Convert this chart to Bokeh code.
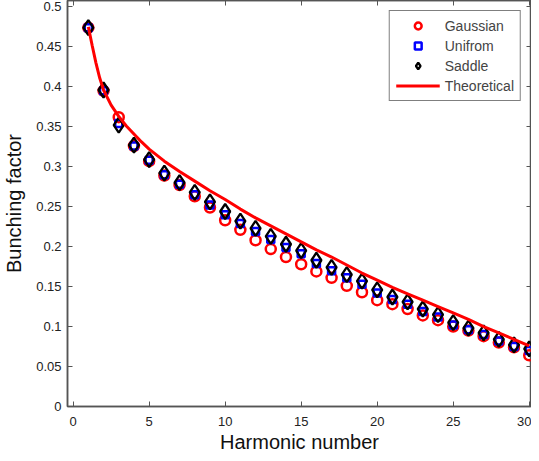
from bokeh.plotting import figure
from bokeh.models import LinearAxis, Range1d, Legend, LegendItem, FixedTicker
from bokeh.embed import file_html
from bokeh.resources import INLINE

harmonic = list(range(1, 31))
gaussian = [0.474, 0.395, 0.362, 0.326, 0.307, 0.289, 0.277, 0.263, 0.249, 0.233,
            0.221, 0.208, 0.197, 0.187, 0.178, 0.169, 0.161, 0.151, 0.143, 0.133,
            0.128, 0.122, 0.114, 0.108, 0.100, 0.095, 0.088, 0.080, 0.074, 0.064]
unifrom = [0.474, 0.395, 0.354, 0.326, 0.308, 0.290, 0.278, 0.265, 0.252, 0.240,
           0.229, 0.219, 0.209, 0.199, 0.191, 0.179, 0.170, 0.161, 0.153, 0.142,
           0.134, 0.128, 0.119, 0.112, 0.102, 0.096, 0.090, 0.082, 0.075, 0.070]
saddle = [0.474, 0.396, 0.352, 0.327, 0.309, 0.292, 0.280, 0.268, 0.256, 0.244,
          0.232, 0.223, 0.213, 0.203, 0.195, 0.183, 0.174, 0.165, 0.157, 0.146,
          0.137, 0.131, 0.122, 0.115, 0.105, 0.098, 0.092, 0.084, 0.077, 0.072]

theory_n = [1, 1.25, 1.5, 1.75, 2, 2.5, 3, 3.5, 4, 4.5, 5, 6, 7, 8, 9, 10, 11, 12, 13, 14,
            15, 16, 17, 18, 19, 20, 21, 22, 23, 24, 25, 26, 27, 28, 29, 30]
theory_b = [0.475, 0.452, 0.430, 0.411, 0.396, 0.377, 0.363, 0.351, 0.341, 0.331, 0.322,
            0.307, 0.294, 0.282, 0.270, 0.259, 0.247, 0.236, 0.226, 0.216, 0.206, 0.196,
            0.187, 0.177, 0.167, 0.158, 0.149, 0.141, 0.133, 0.125, 0.117, 0.109, 0.100,
            0.092, 0.084, 0.076]

x_ticks = [0, 5, 10, 15, 20, 25, 30]
y_ticks = [0, 0.05, 0.1, 0.15, 0.2, 0.25, 0.3, 0.35, 0.4, 0.45, 0.5]

FONT = "Liberation Sans"
AX = "#555555"

p = figure(width=531, height=455, output_backend="svg", toolbar_location=None,
           x_range=Range1d(-0.37, 30.15), y_range=Range1d(0, 0.508),
           min_border_left=63, min_border_right=0, min_border_top=0, min_border_bottom=0)
p.xgrid.visible = False
p.ygrid.visible = False
p.outline_line_color = AX
p.outline_line_width = 1.5

def style_axis(ax, labels=True):
    ax.axis_line_color = AX
    ax.axis_line_width = 1.5
    ax.major_tick_in = 5
    ax.major_tick_out = 0
    ax.minor_tick_line_color = None
    ax.major_tick_line_color = AX
    ax.major_label_text_font = FONT
    ax.major_label_text_font_size = "13px"
    ax.major_label_text_color = "#222222"
    if not labels:
        ax.major_label_text_font_size = "0px"
        ax.major_label_text_color = None
        ax.major_label_standoff = 0

p.xaxis.ticker = FixedTicker(ticks=x_ticks)
p.yaxis.ticker = FixedTicker(ticks=y_ticks)
p.yaxis.major_label_overrides = {0: "0", 0.05: "0.05", 0.1: "0.1", 0.15: "0.15", 0.2: "0.2",
                                 0.25: "0.25", 0.3: "0.3", 0.35: "0.35", 0.4: "0.4",
                                 0.45: "0.45", 0.5: "0.5"}
style_axis(p.xaxis[0])
style_axis(p.yaxis[0])
p.xaxis.axis_label = "Harmonic number"
p.yaxis.axis_label = "Bunching factor"
for ax in (p.xaxis[0], p.yaxis[0]):
    ax.axis_label_text_font = FONT
    ax.axis_label_text_font_size = "20px"
    ax.axis_label_text_font_style = "normal"
    ax.axis_label_text_color = "#111111"
p.xaxis[0].major_label_standoff = 10
p.xaxis[0].axis_label_standoff = 2
p.yaxis[0].major_label_standoff = 6
p.yaxis[0].axis_label_standoff = 8

top = LinearAxis(ticker=FixedTicker(ticks=x_ticks))
style_axis(top, labels=False)
p.add_layout(top, "above")
right = LinearAxis(ticker=FixedTicker(ticks=y_ticks))
style_axis(right, labels=False)
p.add_layout(right, "right")

g = p.scatter(harmonic, gaussian, marker="circle", size=10, fill_color=None,
              line_color="#ff0000", line_width=2.5)
u = p.scatter(harmonic, unifrom, marker="square", size=7, fill_color=None,
              line_color="#0000ff", line_width=2.5)
s = p.scatter(harmonic, saddle, marker="diamond", size=15, fill_color=None,
              line_color="#000000", line_width=2.3)
t = p.line(theory_n, theory_b, line_color="#ff0000", line_width=3)

legend = Legend(items=[LegendItem(label="Gaussian", renderers=[g]),
                       LegendItem(label="Unifrom", renderers=[u]),
                       LegendItem(label="Saddle", renderers=[s]),
                       LegendItem(label="Theoretical", renderers=[t])],
                location="top_right")
legend.label_text_font = FONT
legend.label_text_font_size = "14px"
legend.label_height = 17
legend.glyph_height = 17
legend.glyph_width = 44
legend.spacing = 3
legend.padding = 6
legend.margin = 10
legend.border_line_color = "#000000"
legend.border_line_width = 1
p.add_layout(legend)

open("out.html", "w").write(file_html(p, INLINE))
